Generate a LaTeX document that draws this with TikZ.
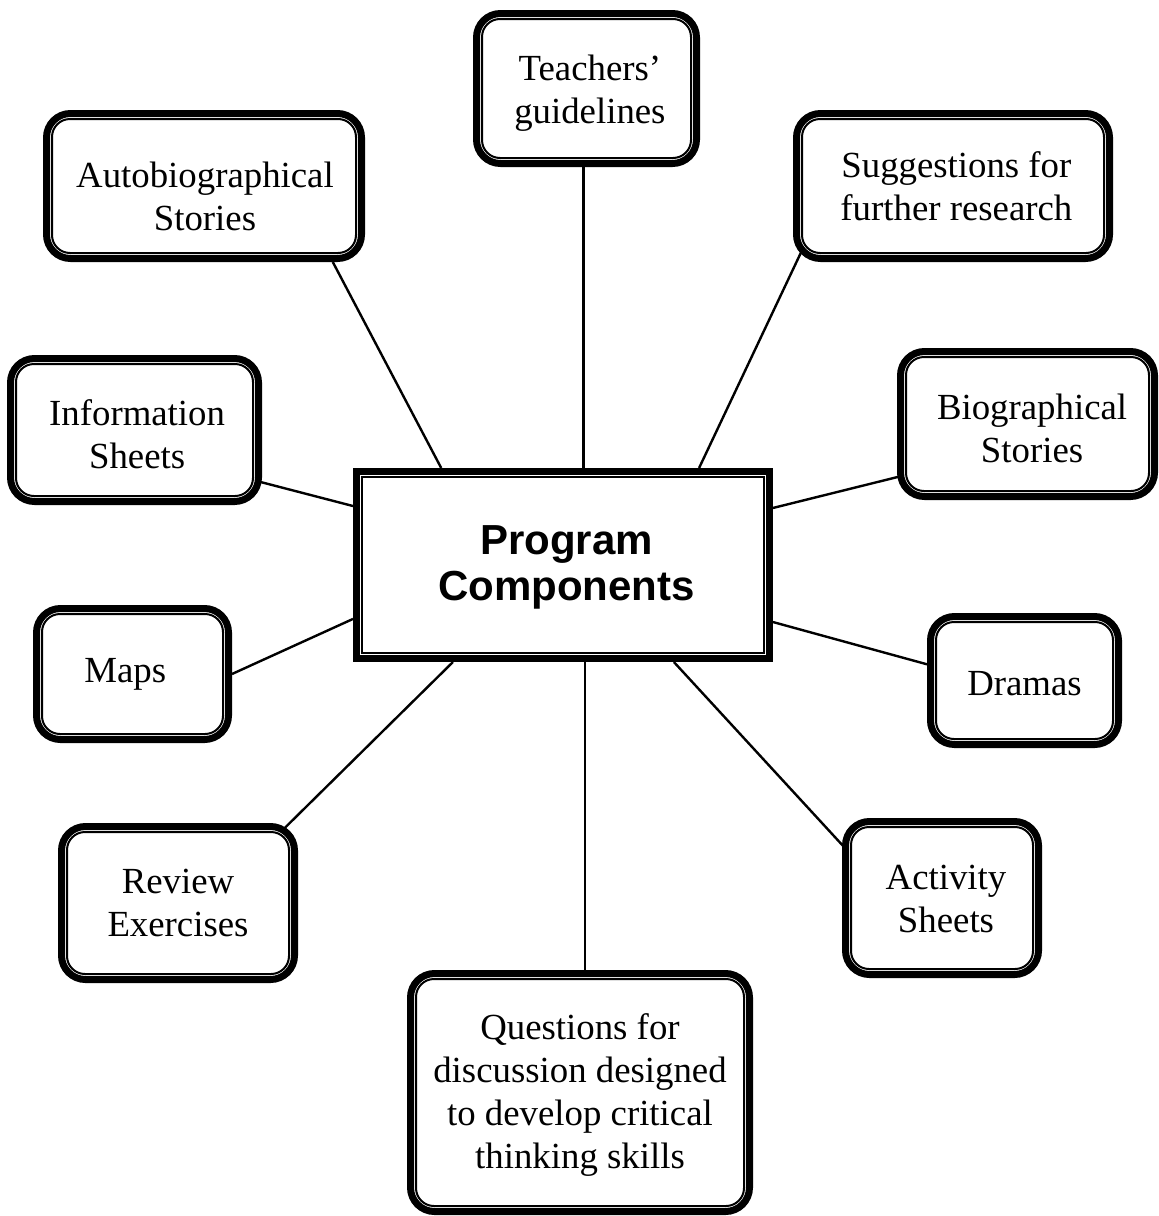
\documentclass[tikz,border=0pt]{standalone}
\usepackage{fontspec}
\setmainfont{Liberation Serif}
\newfontfamily\pcsans{Liberation Sans}
\usetikzlibrary{calc}
\pgfdeclarelayer{bg}
\pgfsetlayers{bg,main}
\tikzset{
  comp/.style={draw, fill=white, line width=3.5pt, rounded corners=12pt, align=center,
    inner sep=0pt, font=\fontsize{18.4pt}{21.5pt}\selectfont},
  hub/.style={draw, fill=white, line width=3.5pt, align=center, inner sep=0pt,
    font=\pcsans\bfseries\fontsize{21pt}{23pt}\selectfont},
  innerline/.style={line width=1pt, rounded corners=9pt},
  hubinner/.style={line width=1pt},
  link/.style={line width=1.2pt}
}
% #1 = x shift, #2 = downward shift, #3 = lines
\newcommand\txt[3]{\raisebox{-#2}[\height][\depth]{\kern#1\begin{tabular}{@{}c@{}}#3\end{tabular}\kern-#1}}
\newcommand\compinner[1]{\draw[innerline] ([shift={(9,9)}]#1.north west) rectangle ([shift={(-9,-9)}]#1.south east);}
\newcommand\hubinnerbox[1]{\draw[hubinner] ([shift={(9,9)}]#1.north west) rectangle ([shift={(-9,-9)}]#1.south east);}
\begin{document}
\begin{tikzpicture}[x=0.5pt,y=-0.5pt]
\useasboundingbox (0,0) rectangle (1159,1216);

\node[hub, minimum width=206.5pt, minimum height=93.5pt] (central) at (563,565) {\txt{1.7pt}{1.5pt}{Program\\Components}};
\hubinnerbox{central}

\node[comp, minimum width=110pt, minimum height=75pt] (teach) at (586.5,88.5) {\txt{1.7pt}{2.5pt}{Teachers’\\guidelines}};
\compinner{teach}
\node[comp, minimum width=157.5pt, minimum height=72.5pt] (auto) at (204,186) {\txt{0.5pt}{7pt}{Autobiographical\\Stories}};
\compinner{auto}
\node[comp, minimum width=156.5pt, minimum height=72.5pt] (sugg) at (953,186) {\txt{1.7pt}{2pt}{Suggestions for\\further research}};
\compinner{sugg}
\node[comp, minimum width=124pt, minimum height=71.5pt] (info) at (134.5,430) {\txt{1.3pt}{4pt}{Information\\Sheets}};
\compinner{info}
\node[comp, minimum width=127pt, minimum height=72.5pt] (bio) at (1027.5,424) {\txt{2.3pt}{4.4pt}{Biographical\\Stories}};
\compinner{bio}
\node[comp, minimum width=96pt, minimum height=65.5pt] (maps) at (132.5,674) {\txt{-3.6pt}{0pt}{Maps}};
\compinner{maps}
\node[comp, minimum width=94pt, minimum height=64pt] (dramas) at (1024.5,680.5) {\txt{0pt}{3pt}{Dramas}};
\compinner{dramas}
\node[comp, minimum width=116.5pt, minimum height=76.5pt] (review) at (178,903) {\txt{0pt}{1.8pt}{Review\\Exercises}};
\compinner{review}
\node[comp, minimum width=96.5pt, minimum height=76.5pt] (activity) at (942,898) {\txt{2pt}{2pt}{Activity\\Sheets}};
\compinner{activity}
\node[comp, minimum width=169.5pt, minimum height=119pt] (quest) at (580,1092.5) {\txt{0pt}{1.5pt}{Questions for\\discussion designed\\to develop critical\\thinking skills}};
\compinner{quest}

\begin{pgfonlayer}{bg}
  \draw[link] ($(teach.south)+(-3,0)$) -- ($(teach.south |- central.north)+(-3,0)$);
  \draw[link] ($(auto.south west)!0.9!(auto.south east)$) -- ($(central.north west)!0.21!(central.north east)$);
  \draw[link] ([shift={(12,-18)}]sugg.south west) -- ($(central.north west)!0.824!(central.north east)$);
  \draw[link] ([shift={(-13,-26)}]info.south east) -- ($(central.north west)!0.196!(central.south west)$);
  \draw[link] ([shift={(11.5,-25.7)}]bio.south west) -- ($(central.north east)!0.206!(central.south east)$);
  \draw[link] (maps.east) -- ($(central.north west)!0.778!(central.south west)$);
  \draw[link] ($(dramas.north west)!0.38!(dramas.south west)$) -- ($(central.north east)!0.794!(central.south east)$);
  \draw[link] ([shift={(-26.5,18)}]review.north east) -- ($(central.south west)!0.238!(central.south east)$);
  \draw[link] ([shift={(14.5,42.5)}]activity.north west) -- ($(central.south west)!0.764!(central.south east)$);
  \draw[link] ($(quest.north)+(5,0)$) -- ($(quest.north |- central.south)+(5,0)$);
\end{pgfonlayer}
\end{tikzpicture}
\end{document}
